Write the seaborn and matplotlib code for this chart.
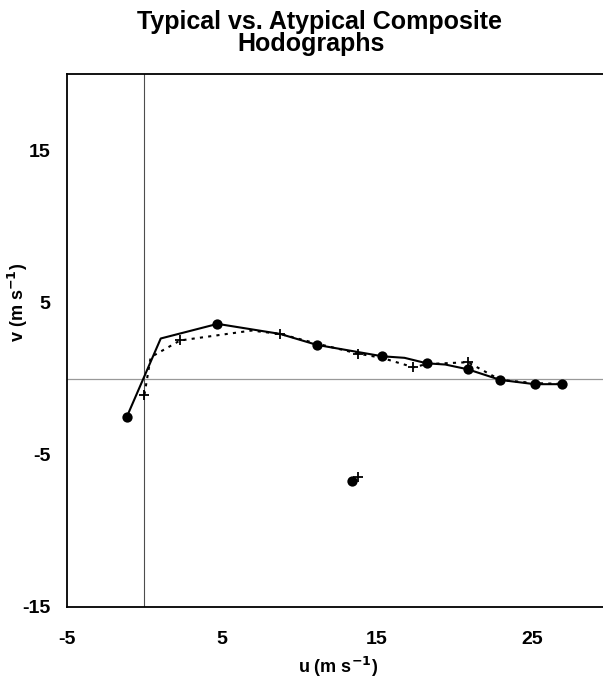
"""Typical vs. atypical composite hodographs."""

import matplotlib

matplotlib.use("Agg")
import matplotlib.pyplot as plt
import pandas as pd
import seaborn as sns
from matplotlib.ticker import MultipleLocator

# typical composite (solid, filled circles); vertices without a marker are flagged 0
typical_u = [-1.14, 1.05, 4.71, 8.75, 11.12, 15.35, 16.77, 18.21, 19.4, 20.84, 22.95, 25.16, 26.92]
typical_v = [-2.52, 2.63, 3.59, 2.93, 2.21, 1.46, 1.36, 1.00, 0.92, 0.61, -0.09, -0.37, -0.37]
typical_marked = [1, 0, 1, 0, 1, 1, 0, 1, 0, 1, 1, 1, 1]

# atypical composite (dotted, plus signs)
atypical_u = [0.0, 0.4, 2.3, 6.9, 8.75, 11.1, 13.76, 15.3, 17.35, 18.2, 20.86, 22.95, 25.16, 26.9]
atypical_v = [-1.05, 1.4, 2.5, 3.15, 2.93, 2.3, 1.64, 1.36, 0.74, 0.95, 1.07, -0.09, -0.3, -0.35]
atypical_marked = [1, 0, 1, 0, 1, 0, 1, 0, 1, 0, 1, 0, 0, 0]

# storm motion points, plotted on their own
storm_typical = (13.38, -6.70)
storm_atypical = (13.74, -6.48)

x_labels = [-5, 5, 15, 25]
y_labels = [15, 5, -5, -15]


def main() -> None:
    sns.set_style("white")
    plt.rcParams["font.family"] = ["Liberation Sans", "DejaVu Sans"]
    plt.rcParams["font.weight"] = "bold"
    plt.rcParams["axes.unicode_minus"] = False
    plt.rcParams["text.color"] = "black"
    plt.rcParams["axes.labelcolor"] = "black"
    plt.rcParams["xtick.color"] = "black"
    plt.rcParams["ytick.color"] = "black"

    typical = pd.DataFrame({"u": typical_u, "v": typical_v, "marked": typical_marked})
    atypical = pd.DataFrame({"u": atypical_u, "v": atypical_v, "marked": atypical_marked})

    fig = plt.figure(figsize=(6.03, 6.81), dpi=100)
    ax = fig.add_axes([0.111, 0.1087, 0.90, 0.7827])

    ax.axhline(0, color="0.6", lw=0.9, zorder=1)
    ax.axvline(0, color="0.3", lw=0.8, zorder=1)

    sns.lineplot(data=typical, x="u", y="v", sort=False, color="black", lw=1.5, ax=ax, zorder=3)
    sns.lineplot(
        data=atypical, x="u", y="v", sort=False, color="black", lw=1.5,
        linestyle=(0, (1.5, 2.5)), ax=ax, zorder=3,
    )
    sns.scatterplot(
        data=typical[typical["marked"] == 1], x="u", y="v", color="black",
        s=55, edgecolor="black", linewidth=0, ax=ax, zorder=4,
    )
    sns.scatterplot(
        data=atypical[atypical["marked"] == 1], x="u", y="v", color="black",
        marker="+", s=60, linewidth=1.3, ax=ax, zorder=4,
    )
    ax.scatter([storm_typical[0]], [storm_typical[1]], color="black", s=55, lw=0, zorder=4)
    ax.scatter([storm_atypical[0]], [storm_atypical[1]], color="black", marker="+", s=60, lw=1.3, zorder=4)

    ax.set_xlim(-5, 30)
    ax.set_ylim(-15, 20)
    ax.set_xticks(x_labels)
    ax.set_yticks(y_labels)
    ax.xaxis.set_minor_locator(MultipleLocator(5))
    ax.yaxis.set_minor_locator(MultipleLocator(5))
    ax.tick_params(which="both", direction="in", length=6, width=1.1, color="black")
    ax.tick_params(axis="x", which="major", pad=17, labelsize=14)
    ax.tick_params(axis="y", which="major", pad=12, labelsize=14)

    for side in ["left", "bottom", "top"]:
        ax.spines[side].set_color("black")
        ax.spines[side].set_linewidth(1.3)
    ax.spines["right"].set_visible(False)

    ax.set_xlabel("u (m s$^{\\mathbf{-1}}$)", fontsize=13, fontweight="bold", labelpad=5)
    ax.set_ylabel("v (m s$^{\\mathbf{-1}}$)", fontsize=13, fontweight="bold")
    ax.yaxis.set_label_coords(-0.068, 0.572)

    fig.text(0.53, 0.958, "Typical vs. Atypical Composite", ha="center", va="baseline",
             fontsize=18, fontweight="bold")
    fig.text(0.516, 0.925, "Hodographs", ha="center", va="baseline",
             fontsize=18, fontweight="bold")

    fig.savefig("out.png", dpi=100)
    plt.close(fig)


if __name__ == "__main__":
    main()
